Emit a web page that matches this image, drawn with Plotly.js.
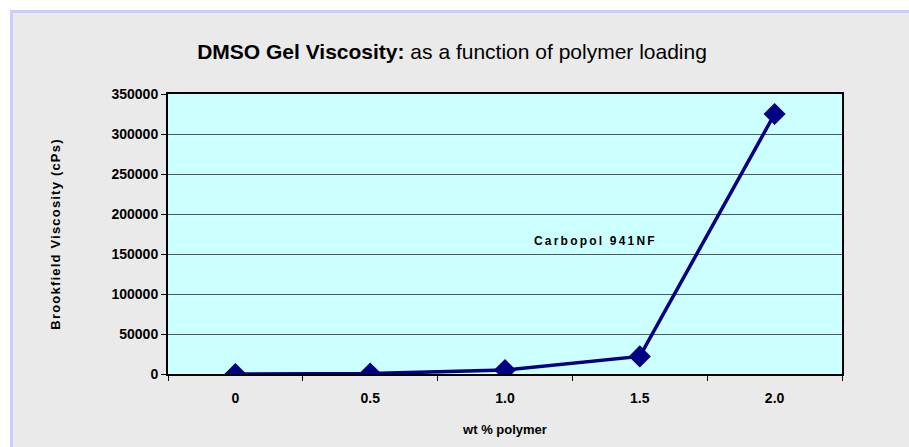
<!DOCTYPE html>
<html>
<head>
<meta charset="utf-8">
<script src="https://cdn.plot.ly/plotly-3.0.1.min.js"></script>
<style>
  html, body { margin: 0; padding: 0; background: #ffffff; width: 909px; height: 447px; overflow: hidden; }
  #frame { position: absolute; left: 10px; top: 10px; width: 896px; height: 434px;
           border-top: 3px solid #CCCCFF; border-left: 3px solid #CCCCFF; background: #EAEAEA; }
  #chart { width: 896px; height: 434px; }
  .annotation-text { letter-spacing: 2.2px; }
  .ytitle { letter-spacing: 1.2px; }
</style>
</head>
<body>
<div id="frame"><div id="chart"></div></div>
<script>
const categories = ['0', '0.5', '1.0', '1.5', '2.0'];
const viscosity = [0, 500, 5000, 22000, 325000];
const seriesLabel = 'Carbopol 941NF';
const yTickValues = [0, 50000, 100000, 150000, 200000, 250000, 300000, 350000];

const trace = {
  x: categories,
  y: viscosity,
  type: 'scatter',
  mode: 'lines+markers',
  line: { color: '#000080', width: 3.5 },
  marker: { symbol: 'diamond', size: 17, color: '#000080' },
  showlegend: false,
  hoverinfo: 'x+y'
};

const layout = {
  width: 896,
  height: 434,
  margin: { l: 155, r: 67, t: 81, b: 73 },
  paper_bgcolor: 'rgba(0,0,0,0)',
  plot_bgcolor: '#CCFFFF',
  font: { family: '"Liberation Sans", Arial, sans-serif', color: '#000000' },
  title: {
    text: '<b>DMSO Gel Viscosity:</b> as a function of polymer loading',
    font: { size: 21, color: '#000000' },
    xref: 'container', x: 0.49, xanchor: 'center',
    yref: 'container', y: 0.91, yanchor: 'middle'
  },
  xaxis: {
    type: 'category',
    range: [-0.5, 4.5],
    tickson: 'boundaries',
    ticks: 'outside', ticklen: 5, tickcolor: '#000000', tickwidth: 1,
    showgrid: false,
    showline: true, linecolor: '#000000', linewidth: 2, mirror: true,
    tickfont: { size: 14, family: '"Liberation Sans", Arial, sans-serif', weight: 'bold' },
    ticklabelstandoff: 10,
    title: { text: '<b>wt % polymer</b>', font: { size: 13 }, standoff: 20 },
    fixedrange: true,
    zeroline: false
  },
  yaxis: {
    range: [0, 350000],
    tickvals: yTickValues,
    tickformat: 'd',
    ticks: 'outside', ticklen: 5, tickcolor: '#000000', tickwidth: 1,
    showgrid: true, gridcolor: '#555555', gridwidth: 1,
    showline: true, linecolor: '#000000', linewidth: 2, mirror: true,
    tickfont: { size: 14, family: '"Liberation Sans", Arial, sans-serif', weight: 'bold' },
    title: { text: '<b>Brookfield Viscosity (cPs)</b>', font: { size: 13 }, standoff: 48 },
    zeroline: false,
    fixedrange: true
  },
  annotations: [{
    text: '<b>' + seriesLabel + '</b>',
    xref: 'paper', x: 0.635, xanchor: 'center',
    yref: 'y', y: 166000, yanchor: 'middle',
    showarrow: false,
    font: { size: 12, color: '#000000' }
  }]
};

Plotly.newPlot('chart', [trace], layout, { displayModeBar: false, staticPlot: true });
</script>
</body>
</html>
